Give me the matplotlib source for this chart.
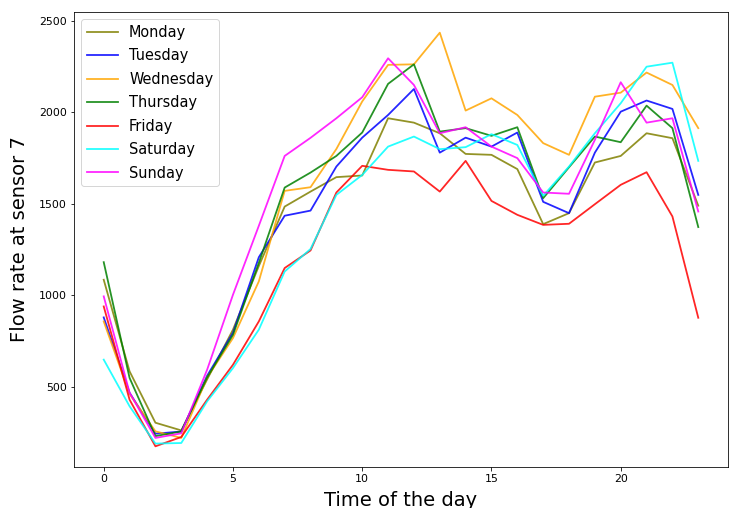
import matplotlib
matplotlib.use("Agg")
import matplotlib.pyplot as plt

hours = list(range(24))
days = ["Monday", "Tuesday", "Wednesday", "Thursday", "Friday", "Saturday", "Sunday"]
colors = ["olive", "blue", "orange", "green", "red", "cyan", "magenta"]

monday = [1085, 584, 303, 261, 540, 812, 1160, 1485, 1567, 1646, 1655, 1968,
          1944, 1886, 1773, 1768, 1690, 1389, 1449, 1726, 1762, 1886, 1859, 1490]
tuesday = [879, 467, 243, 255, 560, 795, 1208, 1435, 1463, 1704, 1862, 1986,
           2128, 1780, 1862, 1813, 1890, 1511, 1449, 1780, 2004, 2065, 2019, 1549]
wednesday = [857, 460, 256, 220, 550, 766, 1076, 1571, 1591, 1800, 2060, 2260,
             2263, 2436, 2010, 2077, 1986, 1832, 1768, 2086, 2108, 2218, 2150, 1914]
thursday = [1181, 548, 230, 255, 550, 784, 1177, 1589, 1671, 1762, 1890, 2156,
            2263, 1895, 1914, 1872, 1919, 1531, 1700, 1868, 1837, 2037, 1914, 1373]
friday = [939, 429, 174, 225, 429, 620, 857, 1149, 1245, 1562, 1708, 1686,
          1677, 1567, 1735, 1516, 1440, 1385, 1391, 1498, 1604, 1673, 1431, 877]
saturday = [648, 393, 189, 192, 420, 602, 812, 1130, 1253, 1549, 1658, 1813,
            1868, 1799, 1810, 1881, 1822, 1544, 1704, 1886, 2050, 2250, 2272, 1735]
sunday = [994, 467, 220, 245, 593, 1003, 1380, 1762, 1861, 1968, 2083, 2296,
          2150, 1886, 1919, 1813, 1750, 1562, 1555, 1850, 2165, 1944, 1968, 1458]

series = [monday, tuesday, wednesday, thursday, friday, saturday, sunday]

fig = plt.figure(figsize=(730 / 72, 508 / 72), dpi=72)
ax = fig.add_axes([74 / 730, 1 - 467 / 508, (728 - 74) / 730, (467 - 12) / 508])

for name, col, vals in zip(days, colors, series):
    ax.plot(hours, vals, color=col, label=name, linewidth=1.8, alpha=0.85)

ax.set_xlabel("Time of the day", fontsize=19.5, labelpad=7)
ax.set_ylabel("Flow rate at sensor 7", fontsize=19.5, labelpad=10)
ax.tick_params(labelsize=11)
ax.set_xticks([0, 5, 10, 15, 20])
ax.set_yticks([500, 1000, 1500, 2000, 2500])
ax.legend(loc="upper left", fontsize=14.5, labelspacing=0.58, handlelength=2.1)

fig.savefig("out.png", dpi=72)
